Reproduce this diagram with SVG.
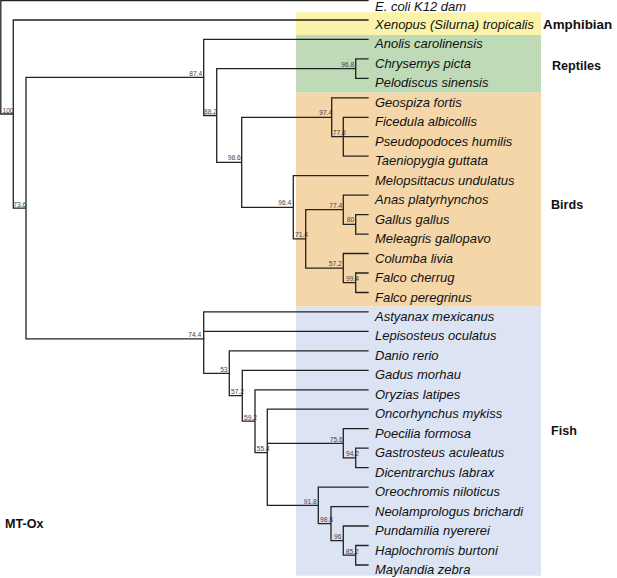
<svg xmlns="http://www.w3.org/2000/svg" width="617" height="578" viewBox="0 0 617 578">
<style>
.leaf{font-family:"Liberation Sans",Arial,sans-serif;font-size:13px;font-style:italic;fill:#111}
.grp{font-family:"Liberation Sans",Arial,sans-serif;font-size:12.6px;font-weight:bold;fill:#111}
.bs{font-family:"Liberation Sans",Arial,sans-serif;font-size:6.7px;fill:#444}
.br{fill:none;stroke:#222;stroke-width:1.3;stroke-linecap:square}
</style>
<rect width="617" height="578" fill="#fff"/>
<g id="bands">
<rect x="296" y="12.3" width="245" height="22.7" fill="#FBF3AA"/>
<rect x="296" y="35" width="245" height="57.7" fill="#BEDAB6"/>
<rect x="296" y="92.7" width="245" height="214" fill="#F4D6A9"/>
<rect x="296" y="306.7" width="245" height="269" fill="#DCE4F4"/>
</g>
<g id="support">
<text class="bs" x="13.6" y="112.5" text-anchor="end">100</text>
<text class="bs" x="26.3" y="206.5" text-anchor="end">73.6</text>
<text class="bs" x="202.3" y="75.6" text-anchor="end">87.4</text>
<text class="bs" x="204" y="113.8">88.2</text>
<text class="bs" x="240.7" y="160.3" text-anchor="end">98.6</text>
<text class="bs" x="354.3" y="66.5" text-anchor="end">96.8</text>
<text class="bs" x="332.2" y="115" text-anchor="end">97.4</text>
<text class="bs" x="332.7" y="134.7">77.8</text>
<text class="bs" x="291.3" y="205.4" text-anchor="end">96.4</text>
<text class="bs" x="295" y="237.3">71.4</text>
<text class="bs" x="342.3" y="207.6" text-anchor="end">77.4</text>
<text class="bs" x="354.3" y="222.3" text-anchor="end">80</text>
<text class="bs" x="341.8" y="266" text-anchor="end">57.2</text>
<text class="bs" x="346" y="281">99.4</text>
<text class="bs" x="201.3" y="336.8" text-anchor="end">74.4</text>
<text class="bs" x="227.6" y="371.6" text-anchor="end">53</text>
<text class="bs" x="231" y="394">57.2</text>
<text class="bs" x="244" y="419.5">59.2</text>
<text class="bs" x="256.7" y="451">55.4</text>
<text class="bs" x="342.8" y="441.6" text-anchor="end">75.6</text>
<text class="bs" x="346" y="456.2">94.2</text>
<text class="bs" x="316.8" y="503.6" text-anchor="end">91.8</text>
<text class="bs" x="320" y="521.8">98.8</text>
<text class="bs" x="334" y="539">96</text>
<text class="bs" x="345.7" y="553.5">85.2</text>
</g>
<g id="connectors">
<path class="br" d="M0.8 0.5V114M0.8 0.5H368M0.8 114H13.3M13.3 20V208.1M13.3 20H368M13.3 208.1H26M26 77.4V338.9M26 77.4H203.7M26 338.9H203.7"/>
<path class="br" d="M203.7 39.4V115.5M203.7 39.4H368M203.7 115.5H216.7M216.7 68.6V162.3M216.7 68.6H355.7M355.7 58.9V78.4M355.7 58.9H368M355.7 78.4H368M216.7 162.3H241.7M241.7 117.3V207.3M241.7 117.3H331.7M331.7 97.8V136.7M331.7 97.8H368M331.7 136.7H368M343.3 117.3V156.2M343.3 117.3H368M343.3 156.2H368M241.7 207.3H293.3M293.3 175.7V238.9M293.3 175.7H368M293.3 238.9H305.7M305.7 209.7V268.1M305.7 209.7H343.3M343.3 195.1V224.3M343.3 195.1H368M343.3 224.3H355.7M355.7 214.6V234.1M355.7 214.6H368M355.7 234.1H368M305.7 268.1H343.3M343.3 253.5V282.7M343.3 253.5H368M343.3 282.7H355.7M355.7 273V292.5M355.7 273H368M355.7 292.5H368"/>
<path class="br" d="M203.7 311.9V373.3M203.7 311.9H368M203.7 331.4H368M203.7 373.3H229.3M229.3 350.9V395.7M229.3 350.9H368M229.3 395.7H242.3M242.3 370.3V421.2M242.3 370.3H368M242.3 421.2H255M255 389.8V452.6M255 389.8H368M255 452.6H267.3M267.3 409.2V505.3M267.3 409.2H368M267.3 443.3H343.3M343.3 428.7V457.9M343.3 428.7H368M343.3 457.9H355.7M355.7 448.2V467.6M355.7 448.2H368M355.7 467.6H368M267.3 505.3H318.3M318.3 487.1V523.6M318.3 487.1H368M318.3 523.6H331M331 506.6V540.6M331 506.6H368M331 540.6H343.3M343.3 526V555.2M343.3 526H368M343.3 555.2H355.7M355.7 545.5V565M355.7 545.5H368M355.7 565H368"/>
</g>
<g id="leaves">
<text class="leaf" x="375" y="10.6">E. coli K12 dam</text>
<text class="leaf" x="375" y="29">Xenopus (Silurna) tropicalis</text>
<text class="leaf" x="375" y="48.4">Anolis carolinensis</text>
<text class="leaf" x="375" y="67.9">Chrysemys picta</text>
<text class="leaf" x="375" y="87.4">Pelodiscus sinensis</text>
<text class="leaf" x="375" y="106.8">Geospiza fortis</text>
<text class="leaf" x="375" y="126.3">Ficedula albicollis</text>
<text class="leaf" x="375" y="145.7">Pseudopodoces humilis</text>
<text class="leaf" x="375" y="165.2">Taeniopygia guttata</text>
<text class="leaf" x="375" y="184.7">Melopsittacus undulatus</text>
<text class="leaf" x="375" y="204.1">Anas platyrhynchos</text>
<text class="leaf" x="375" y="223.6">Gallus gallus</text>
<text class="leaf" x="375" y="243.1">Meleagris gallopavo</text>
<text class="leaf" x="375" y="262.5">Columba livia</text>
<text class="leaf" x="375" y="282">Falco cherrug</text>
<text class="leaf" x="375" y="301.5">Falco peregrinus</text>
<text class="leaf" x="375" y="320.9">Astyanax mexicanus</text>
<text class="leaf" x="375" y="340.4">Lepisosteus oculatus</text>
<text class="leaf" x="375" y="359.9">Danio rerio</text>
<text class="leaf" x="375" y="379.3">Gadus morhau</text>
<text class="leaf" x="375" y="398.8">Oryzias latipes</text>
<text class="leaf" x="375" y="418.2">Oncorhynchus mykiss</text>
<text class="leaf" x="375" y="437.7">Poecilia formosa</text>
<text class="leaf" x="375" y="457.2">Gastrosteus aculeatus</text>
<text class="leaf" x="375" y="476.6">Dicentrarchus labrax</text>
<text class="leaf" x="375" y="496.1">Oreochromis niloticus</text>
<text class="leaf" x="375" y="515.6">Neolamprologus brichardi</text>
<text class="leaf" x="375" y="535">Pundamilia nyererei</text>
<text class="leaf" x="375" y="554.5">Haplochromis burtoni</text>
<text class="leaf" x="375" y="574">Maylandia zebra</text>
</g>
<g id="groups">
<text class="grp" x="543" y="29.3" style="font-size:13.4px">Amphibian</text>
<text class="grp" x="552" y="69.5">Reptiles</text>
<text class="grp" x="551" y="208.5">Birds</text>
<text class="grp" x="551" y="434.5">Fish</text>
<text class="grp" x="5" y="527.5">MT-Ox</text>
</g>
</svg>
